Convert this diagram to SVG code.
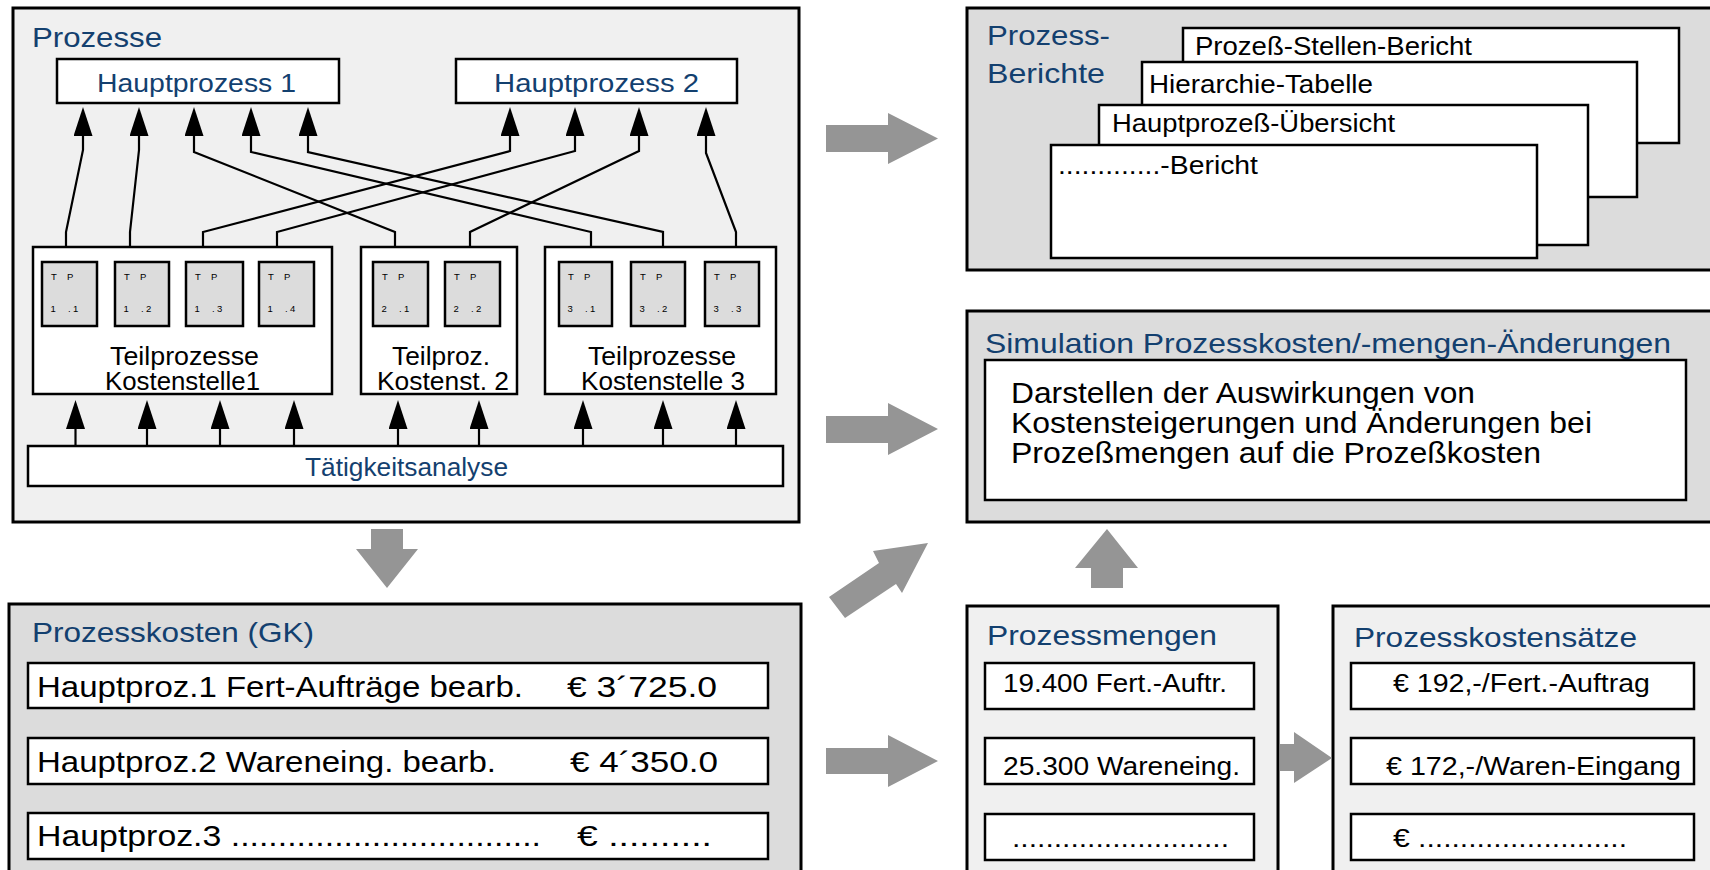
<svg xmlns="http://www.w3.org/2000/svg" width="1710" height="870" viewBox="0 0 1710 870">
<style>
.box{stroke:#000;stroke-width:3}
.ib{stroke:#000;stroke-width:2.5}
.w{fill:#fff}
.lg{fill:#f0f0f0}
.dg{fill:#dcdcdc}
.tpb{fill:#dcdcdc;stroke:#000;stroke-width:2.5}
text{font-family:"Liberation Sans",Arial,Helvetica,sans-serif;fill:#000}
.blue{fill:#13406f}
.ga{fill:#959595}
.conn{fill:none;stroke:#000;stroke-width:2.2}
.tp{font-size:9.5px}
.f29{font-size:29px}
.f28{font-size:28px}
.f26{font-size:26px}
.f25{font-size:25px}
</style>
<defs>
<marker id="ah" markerUnits="userSpaceOnUse" markerWidth="29" markerHeight="19" viewBox="0 0 29 19" refX="0" refY="9.5" orient="auto">
<path d="M0,0 L29,9.5 L0,19 z" fill="#000"/>
</marker>
</defs>
<rect width="1710" height="870" fill="#fff"/>

<g id="prozesse">
<rect class="box lg" x="13" y="8" width="786" height="514"/>
<text class="blue f28" x="32" y="47" textLength="130" lengthAdjust="spacingAndGlyphs">Prozesse</text>
</g>
<g id="hauptprozess1">
<rect class="ib w" x="57" y="59" width="282" height="44"/>
<text class="blue f26" x="97" y="92" textLength="199" lengthAdjust="spacingAndGlyphs">Hauptprozess 1</text>
</g>
<g id="hauptprozess2">
<rect class="ib w" x="456" y="59" width="281" height="44"/>
<text class="blue f26" x="494" y="92" textLength="205" lengthAdjust="spacingAndGlyphs">Hauptprozess 2</text>
</g>

<g id="kostenstelle1">
<rect class="ib w" x="33" y="247" width="299" height="147"/>
<text class="f25" x="110" y="365" textLength="149" lengthAdjust="spacingAndGlyphs">Teilprozesse</text>
<text class="f25" x="105" y="390" textLength="155" lengthAdjust="spacingAndGlyphs">Kostenstelle1</text>
</g>
<g id="kostenstelle2">
<rect class="ib w" x="361" y="247" width="156" height="147"/>
<text class="f25" x="392" y="365" textLength="98" lengthAdjust="spacingAndGlyphs">Teilproz.</text>
<text class="f25" x="377" y="390" textLength="132" lengthAdjust="spacingAndGlyphs">Kostenst. 2</text>
</g>
<g id="kostenstelle3">
<rect class="ib w" x="545" y="247" width="231" height="147"/>
<text class="f25" x="588" y="365" textLength="148" lengthAdjust="spacingAndGlyphs">Teilprozesse</text>
<text class="f25" x="581" y="390" textLength="164" lengthAdjust="spacingAndGlyphs">Kostenstelle 3</text>
</g>

<g id="tp11"><rect class="tpb" x="42" y="262" width="55" height="64"/><text class="tp" x="51 67" y="280">TP</text><text class="tp" x="50.5 68 73" y="312">1.1</text></g>
<g id="tp12"><rect class="tpb" x="115" y="262" width="54" height="64"/><text class="tp" x="124 140" y="280">TP</text><text class="tp" x="123.5 141 146" y="312">1.2</text></g>
<g id="tp13"><rect class="tpb" x="186" y="262" width="57" height="64"/><text class="tp" x="195 211" y="280">TP</text><text class="tp" x="194.5 212 217" y="312">1.3</text></g>
<g id="tp14"><rect class="tpb" x="259" y="262" width="55" height="64"/><text class="tp" x="268 284" y="280">TP</text><text class="tp" x="267.5 285 290" y="312">1.4</text></g>
<g id="tp21"><rect class="tpb" x="373" y="262" width="55" height="64"/><text class="tp" x="382 398" y="280">TP</text><text class="tp" x="381.5 399 404" y="312">2.1</text></g>
<g id="tp22"><rect class="tpb" x="445" y="262" width="55" height="64"/><text class="tp" x="454 470" y="280">TP</text><text class="tp" x="453.5 471 476" y="312">2.2</text></g>
<g id="tp31"><rect class="tpb" x="559" y="262" width="53" height="64"/><text class="tp" x="568 584" y="280">TP</text><text class="tp" x="567.5 585 590" y="312">3.1</text></g>
<g id="tp32"><rect class="tpb" x="631" y="262" width="54" height="64"/><text class="tp" x="640 656" y="280">TP</text><text class="tp" x="639.5 657 662" y="312">3.2</text></g>
<g id="tp33"><rect class="tpb" x="705" y="262" width="54" height="64"/><text class="tp" x="714 730" y="280">TP</text><text class="tp" x="713.5 731 736" y="312">3.3</text></g>

<g id="taetigkeitsanalyse">
<rect class="ib w" x="28" y="446" width="755" height="40"/>
<text class="blue f26" x="305" y="476" textLength="203" lengthAdjust="spacingAndGlyphs">Tätigkeitsanalyse</text>
</g>

<g id="connectors">
<path class="conn" marker-end="url(#ah)" d="M66,247 V232 L83,150 V136"/>
<path class="conn" marker-end="url(#ah)" d="M130,247 V232 L139,150 V136"/>
<path class="conn" marker-end="url(#ah)" d="M395,247 V232 L194,152 V136"/>
<path class="conn" marker-end="url(#ah)" d="M591,247 V232 L251,152 V136"/>
<path class="conn" marker-end="url(#ah)" d="M663,247 V232 L308,152 V136"/>
<path class="conn" marker-end="url(#ah)" d="M203,247 V232 L510,151 V136"/>
<path class="conn" marker-end="url(#ah)" d="M277,247 V232 L575,151 V136"/>
<path class="conn" marker-end="url(#ah)" d="M470,247 V232 L639,151 V136"/>
<path class="conn" marker-end="url(#ah)" d="M736,247 V232 L706,153 V136"/>
<path class="conn" marker-end="url(#ah)" d="M75.5,446 V429"/>
<path class="conn" marker-end="url(#ah)" d="M147,446 V429"/>
<path class="conn" marker-end="url(#ah)" d="M220,446 V429"/>
<path class="conn" marker-end="url(#ah)" d="M294,446 V429"/>
<path class="conn" marker-end="url(#ah)" d="M398,446 V429"/>
<path class="conn" marker-end="url(#ah)" d="M479,446 V429"/>
<path class="conn" marker-end="url(#ah)" d="M583,446 V429"/>
<path class="conn" marker-end="url(#ah)" d="M663,446 V429"/>
<path class="conn" marker-end="url(#ah)" d="M736,446 V429"/>
<polygon class="ga" points="371,529 403,529 403,549 418,549 387,588 356,549 371,549"/>
<polygon class="ga" points="826,125 888,125 888,113 938,138.5 888,164 888,152 826,152"/>
<polygon class="ga" points="826,416 888,416 888,403 938,429 888,455 888,443 826,443"/>
<polygon class="ga" points="826,748 888,748 888,735 938,761 888,787 888,774 826,774"/>
<polygon class="ga" points="829,597 879,563 873,551 928,543 902,593 896,584 845,618"/>
<polygon class="ga" points="1091,588 1091,568 1075,568 1107,529 1138,568 1123,568 1123,588"/>
</g>

<g id="prozesskosten">
<rect class="box dg" x="9" y="604" width="792" height="280"/>
<text class="blue f28" x="32" y="642" textLength="282" lengthAdjust="spacingAndGlyphs">Prozesskosten (GK)</text>
<rect class="ib w" x="28" y="663" width="740" height="45"/>
<text class="f29" x="37" y="697" textLength="486" lengthAdjust="spacingAndGlyphs">Hauptproz.1 Fert-Aufträge bearb.</text>
<text class="f29" x="567" y="697" textLength="150" lengthAdjust="spacingAndGlyphs">€ 3´725.0</text>
<rect class="ib w" x="28" y="738" width="740" height="46"/>
<text class="f29" x="37" y="772" textLength="459" lengthAdjust="spacingAndGlyphs">Hauptproz.2 Wareneing. bearb.</text>
<text class="f29" x="570" y="772" textLength="148" lengthAdjust="spacingAndGlyphs">€ 4´350.0</text>
<rect class="ib w" x="28" y="813" width="740" height="46"/>
<text class="f29" x="37" y="846" textLength="504" lengthAdjust="spacingAndGlyphs">Hauptproz.3 .................................</text>
<text class="f29" x="577" y="846" textLength="135" lengthAdjust="spacingAndGlyphs">€ ..........</text>
</g>

<g id="prozessberichte">
<rect class="box dg" x="967" y="8" width="760" height="262"/>
<text class="blue f28" x="987" y="45" textLength="123" lengthAdjust="spacingAndGlyphs">Prozess-</text>
<text class="blue f28" x="987" y="83" textLength="118" lengthAdjust="spacingAndGlyphs">Berichte</text>
<rect class="ib w" x="1183" y="28" width="496" height="115"/>
<text class="f26" x="1195" y="55" textLength="277" lengthAdjust="spacingAndGlyphs">Prozeß-Stellen-Bericht</text>
<rect class="ib w" x="1142" y="62" width="495" height="135"/>
<text class="f26" x="1149" y="93" textLength="224" lengthAdjust="spacingAndGlyphs">Hierarchie-Tabelle</text>
<rect class="ib w" x="1099" y="105" width="489" height="140"/>
<text class="f26" x="1112" y="132" textLength="283" lengthAdjust="spacingAndGlyphs">Hauptprozeß-Übersicht</text>
<rect class="ib w" x="1051" y="145" width="486" height="113"/>
<text class="f26" x="1058" y="174" textLength="200" lengthAdjust="spacingAndGlyphs">.............-Bericht</text>
</g>

<g id="simulation">
<rect class="box dg" x="967" y="311" width="760" height="211"/>
<text class="blue f28" x="985" y="353" textLength="686" lengthAdjust="spacingAndGlyphs">Simulation Prozesskosten/-mengen-Änderungen</text>
<rect class="ib w" x="985" y="360" width="701" height="140"/>
<text class="f29" x="1011" y="403" textLength="464" lengthAdjust="spacingAndGlyphs">Darstellen der Auswirkungen von</text>
<text class="f29" x="1011" y="433" textLength="581" lengthAdjust="spacingAndGlyphs">Kostensteigerungen und Änderungen bei</text>
<text class="f29" x="1011" y="463" textLength="530" lengthAdjust="spacingAndGlyphs">Prozeßmengen auf die Prozeßkosten</text>
</g>

<g id="prozessmengen">
<rect class="box lg" x="967" y="606" width="311" height="280"/>
<text class="blue f28" x="987" y="645" textLength="230" lengthAdjust="spacingAndGlyphs">Prozessmengen</text>
<rect class="ib w" x="985" y="663" width="269" height="46"/>
<text class="f26" x="1003" y="692" textLength="224" lengthAdjust="spacingAndGlyphs">19.400 Fert.-Auftr.</text>
<rect class="ib w" x="985" y="738" width="269" height="46"/>
<text class="f26" x="1003" y="775" textLength="237" lengthAdjust="spacingAndGlyphs">25.300 Wareneing.</text>
<rect class="ib w" x="985" y="814" width="269" height="46"/>
<text class="f26" x="1012" y="847" textLength="217" lengthAdjust="spacingAndGlyphs">..........................</text>
</g>

<g id="prozesskostensaetze">
<rect class="box lg" x="1333" y="606" width="400" height="280"/>
<text class="blue f28" x="1354" y="647" textLength="283" lengthAdjust="spacingAndGlyphs">Prozesskostensätze</text>
<rect class="ib w" x="1351" y="663" width="343" height="46"/>
<text class="f26" x="1393" y="692" textLength="257" lengthAdjust="spacingAndGlyphs">€ 192,-/Fert.-Auftrag</text>
<rect class="ib w" x="1351" y="738" width="343" height="46"/>
<text class="f26" x="1386" y="775" textLength="295" lengthAdjust="spacingAndGlyphs">€ 172,-/Waren-Eingang</text>
<rect class="ib w" x="1351" y="814" width="343" height="46"/>
<text class="f26" x="1393" y="847" textLength="234" lengthAdjust="spacingAndGlyphs">€ .........................</text>
</g>

<g id="arrow-mengen-saetze">
<polygon class="ga" points="1280,744 1294,744 1294,732 1332,758 1294,783 1294,771 1280,771"/>
</g>
</svg>
